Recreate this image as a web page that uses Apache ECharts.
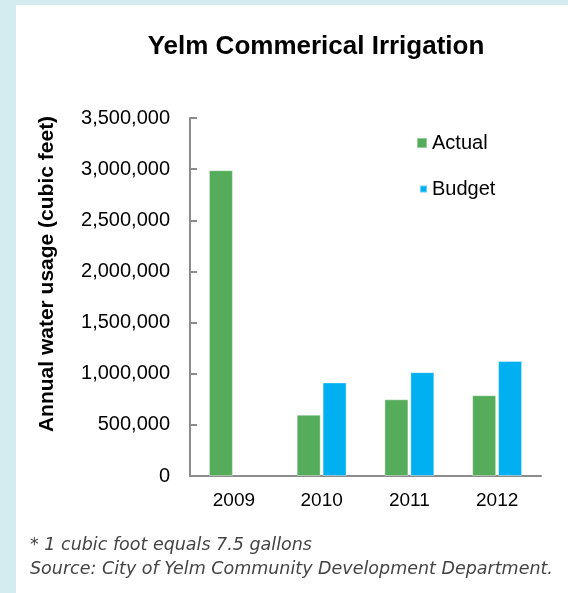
<!DOCTYPE html>
<html>
<head>
<meta charset="utf-8">
<style>
  html, body { margin: 0; padding: 0; }
  #chart { width: 568px; height: 593px; }
</style>
<script src="https://cdn.jsdelivr.net/npm/echarts@6/dist/echarts.min.js"></script>
</head>
<body>
<div id="chart"></div>
<script>
// Yelm commercial irrigation: annual water usage, actual vs. budget
const years = ['2009', '2010', '2011', '2012'];
const actual = [2990000, 600000, 750000, 790000];
const budget = [null, 915000, 1015000, 1125000];
const yTicks = { min: 0, max: 3500000, interval: 500000 };

const green = '#55ad5b';
const blue = '#00b0f0';
const axisGray = '#8c8c8c';
const fontFamily = '"Liberation Sans", Arial, sans-serif';
const noteFont = '"DejaVu Sans", "Open Sans", sans-serif';

const chart = echarts.init(document.getElementById('chart'));

chart.setOption({
  backgroundColor: '#d4ebf0',
  animation: false,
  graphic: [
    { type: 'rect', z: -10, shape: { x: 16, y: 5, width: 552, height: 588 }, style: { fill: '#ffffff' } },
    {
      type: 'text', x: 47, y: 274, rotation: Math.PI / 2,
      style: {
        text: 'Annual water usage (cubic feet)', fontFamily, fontWeight: 'bold', fontSize: 21,
        fill: '#000', align: 'center', verticalAlign: 'middle'
      }
    },
    {
      type: 'text', x: 30, y: 545,
      style: {
        text: '* 1 cubic foot equals 7.5 gallons', fontFamily: noteFont,
        fontStyle: 'italic', fontWeight: 200, fontSize: 17.5, fill: '#444', verticalAlign: 'middle'
      }
    },
    {
      type: 'text', x: 30, y: 569,
      style: {
        text: 'Source: City of Yelm Community Development Department.', fontFamily: noteFont,
        fontStyle: 'italic', fontWeight: 200, fontSize: 17.5, fill: '#444', verticalAlign: 'middle'
      }
    }
  ],
  title: {
    text: 'Yelm Commerical Irrigation',
    left: 311, textAlign: 'center', top: 29,
    textStyle: { fontFamily, fontWeight: 'bold', fontSize: 26, color: '#000' }
  },
  legend: [
    {
      data: ['Actual'], left: 411, top: 128, orient: 'vertical',
      itemWidth: 10, itemHeight: 10, itemGap: 0,
      icon: 'rect',
      textStyle: { fontFamily, fontSize: 20, color: '#000' }
    },
    {
      data: ['Budget'], left: 414, top: 174, orient: 'vertical',
      itemWidth: 7, itemHeight: 7, itemGap: 0,
      icon: 'rect',
      textStyle: { fontFamily, fontSize: 20, color: '#000' }
    }
  ],
  grid: { left: 190, right: 27, top: 118, bottom: 117, containLabel: false },
  xAxis: {
    type: 'category',
    data: years,
    axisLine: { lineStyle: { color: axisGray, width: 2 } },
    axisTick: { show: false },
    axisLabel: { fontFamily, fontSize: 19, color: '#000', margin: 15 }
  },
  yAxis: {
    type: 'value',
    min: yTicks.min, max: yTicks.max, interval: yTicks.interval,
    axisLine: { show: true, lineStyle: { color: axisGray, width: 2 } },
    axisTick: { show: true, inside: true, length: 7, lineStyle: { color: axisGray, width: 2 } },
    splitLine: { show: false },
    axisLabel: {
      fontFamily, fontSize: 20, color: '#000', margin: 20,
      formatter: v => v.toLocaleString('en-US')
    }
  },
  series: [
    {
      name: 'Actual', type: 'bar', data: actual, barWidth: 24, barGap: '8%',
      itemStyle: { color: green, borderColor: 'rgba(255,255,255,0.4)', borderWidth: 1 }
    },
    {
      name: 'Budget', type: 'bar', data: budget, barWidth: 24,
      itemStyle: { color: blue, borderColor: 'rgba(255,255,255,0.4)', borderWidth: 1 }
    }
  ]
});
</script>
</body>
</html>
